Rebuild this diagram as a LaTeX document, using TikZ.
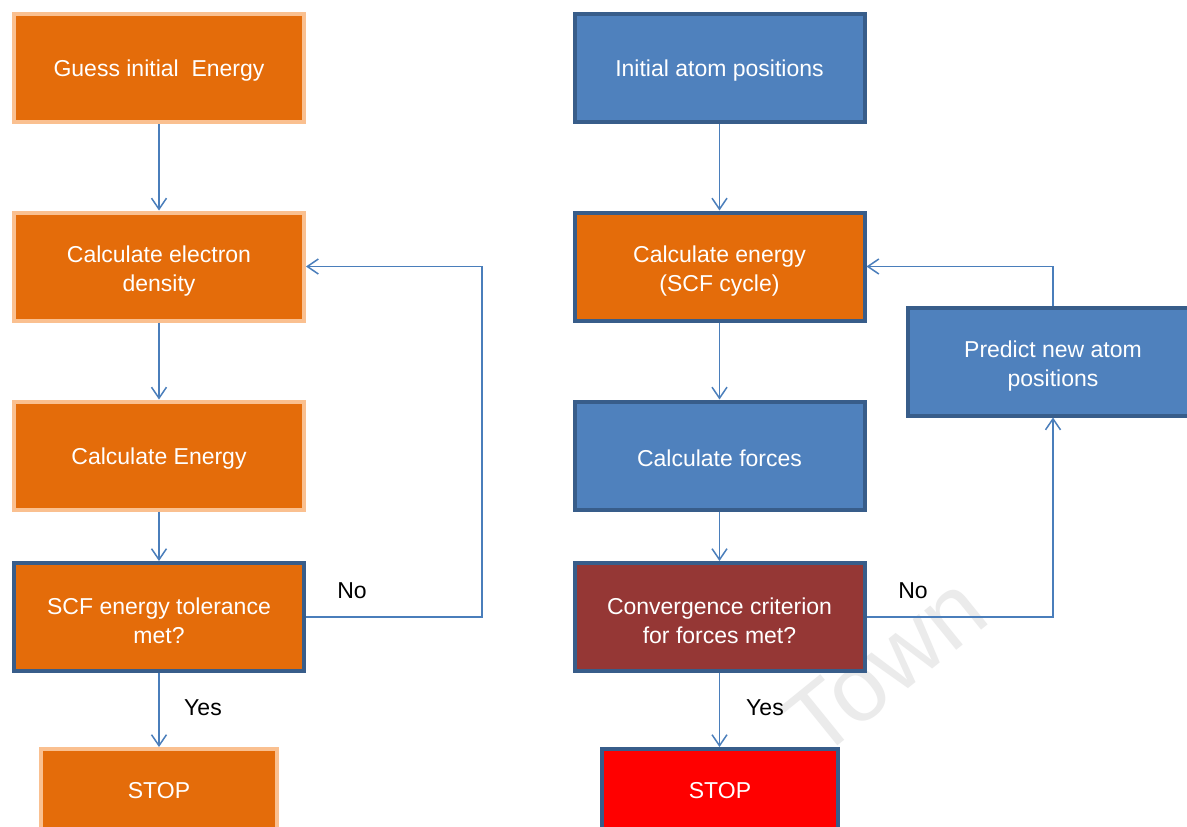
\documentclass[tikz,border=0pt]{standalone}
\usepackage{fontspec}
\setmainfont{Liberation Sans}
\usetikzlibrary{arrows.meta}
\definecolor{orfill}{HTML}{E46C0A}
\definecolor{orline}{HTML}{FAC090}
\definecolor{blfill}{HTML}{4F81BD}
\definecolor{blline}{HTML}{385D8A}
\definecolor{drfill}{HTML}{953735}
\definecolor{rdfill}{HTML}{FF0000}
\definecolor{conn}{HTML}{4A7EBB}
\newcommand\topstrut{\rule{0pt}{25pt}}
\newcommand\botstrut{\rule[-32.5pt]{0pt}{32.5pt}}
\tikzset{
  box/.style={draw, line width=4pt, minimum width=290pt, minimum height=108pt,
    text=white, align=center, font=\fontsize{23}{29}\selectfont, inner sep=0pt,
    execute at begin node={\rule{0pt}{22.5pt}}},
  obox/.style={box, fill=orfill, draw=orline},
  obbox/.style={box, fill=orfill, draw=blline},
  bbox/.style={box, fill=blfill, draw=blline},
  dbox/.style={box, fill=drfill, draw=blline},
  arr/.style={draw=conn, line width=1.5pt, -{Straight Barb[length=11pt,width=15pt,line width=1.5pt]}},
  lbl/.style={text=black, font=\fontsize{23}{29}\selectfont, inner sep=0pt},
}
\begin{document}
\begin{tikzpicture}[x=1pt,y=-1pt]
\clip (0,0) rectangle (1187,827);
\fill[white] (0,0) rectangle (1187,827);
% watermark
\node[text=black!8, rotate=39, font=\fontsize{96}{110}\selectfont, inner sep=0pt] (wm) at (885,666) {Town};
% left column
\node[obox] (guess) at (159,68) {Guess initial\ \ Energy};
\node[obox] (dens) at (159,266.5) {\topstrut Calculate electron\\density};
\node[obox] (ener) at (159,455.5) {Calculate Energy};
\node[obbox] (scf) at (159,617) {\topstrut SCF energy tolerance\\met?};
\node[obox, minimum width=236pt] (stopl) at (159,803) {STOP\botstrut};
% right column
\node[bbox] (init) at (719.5,68) {Initial atom positions};
\node[obbox] (ce) at (719.5,266.5) {\topstrut Calculate energy\\(SCF cycle)};
\node[bbox] (forc) at (719.5,455.5) {Calculate forces};
\node[dbox] (conv) at (719.5,617) {\topstrut Convergence criterion\\for forces met?};
\node[box, fill=rdfill, draw=blline, minimum width=236pt] (stopr) at (720,803) {STOP\botstrut};
\node[bbox] (pred) at (1053,361.5) {\topstrut Predict new atom\\positions};
% connectors
\draw[arr] (guess) -- (dens);
\draw[arr] (dens) -- (ener);
\draw[arr] (ener) -- (scf);
\draw[arr] (scf) -- (stopl);
\draw[arr] (scf.east) -- ++(176,0) |- (dens.east);
\draw[arr] (init) -- (ce);
\draw[arr] (ce) -- (forc);
\draw[arr] (forc) -- (conv);
\draw[arr] (conv.south) -- (stopr.north -| conv.south);
\draw[arr] (conv.east) -| (pred.south);
\draw[arr] (pred.north) |- (ce.east);
% labels
\node[lbl] (no1) at (352,591) {No};
\node[lbl] (yes1) at (203,708) {Yes};
\node[lbl] (no2) at (913,591) {No};
\node[lbl] (yes2) at (765,708) {Yes};
\end{tikzpicture}
\end{document}
